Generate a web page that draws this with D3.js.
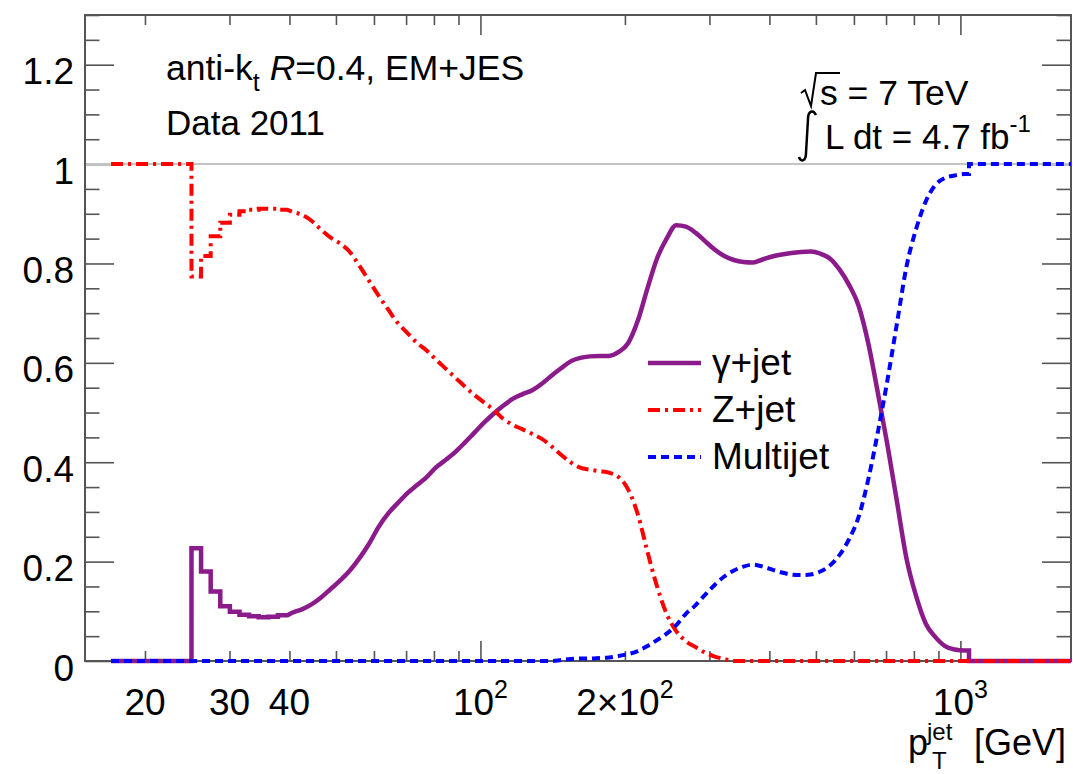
<!DOCTYPE html>
<html>
<head>
<meta charset="utf-8">
<script src="https://cdn.jsdelivr.net/npm/d3@7"></script>
<style>
  body { margin: 0; background: #fff; }
  text { font-family: "Liberation Sans", Arial, Helvetica, sans-serif; }
</style>
</head>
<body>
<script>
// pT bin edges [GeV]: one wide bin 17-25, then fine log bins from 25 GeV
var binEdges = [17].concat(d3.range(0, 93).map(k => 25 * Math.pow(10, 0.02 * k)));

// relative contribution of each in-situ method, one value per bin
var gammaJet = [0,
  0.227,0.18,0.14,0.11,0.099,0.093,0.09,0.088,0.089,0.092,
  0.097,0.104,0.114,0.128,0.145,0.162,0.182,0.207,0.236,0.27,
  0.297,0.318,0.338,0.354,0.37,0.39,0.405,0.421,0.44,0.46,
  0.48,0.498,0.514,0.528,0.537,0.545,0.558,0.574,0.589,0.603,
  0.61,0.613,0.614,0.614,0.622,0.64,0.685,0.75,0.81,0.85,
  0.877,0.874,0.862,0.845,0.828,0.815,0.807,0.803,0.802,0.808,
  0.814,0.818,0.821,0.823,0.824,0.82,0.81,0.788,0.757,0.715,
  0.64,0.54,0.435,0.32,0.205,0.13,0.075,0.048,0.03,0.023,
  0.021,
  0,0,0,0,0,0,0,0,0,0,0];
var zJet = [1,
  0.774,0.815,0.855,0.882,0.898,0.905,0.908,0.91,0.91,0.908,
  0.904,0.898,0.886,0.868,0.852,0.84,0.823,0.795,0.765,0.735,
  0.707,0.68,0.66,0.64,0.625,0.606,0.588,0.57,0.552,0.535,
  0.52,0.505,0.487,0.475,0.466,0.457,0.447,0.432,0.415,0.4,
  0.389,0.385,0.382,0.379,0.37,0.345,0.295,0.22,0.15,0.095,
  0.06,0.04,0.028,0.017,0.009,0.004,0,0,0,0,
  0,0,0,0,0,0,0,0,0,0,
  0,0,0,0,0,0,0,0,0,0,
  0,
  0,0,0,0,0,0,0,0,0,0,0];
var multijet = [0,
  0,0,0,0,0,0,0,0,0,0,
  0,0,0,0,0,0,0,0,0,0,
  0,0,0,0,0,0,0,0,0,0,
  0,0,0,0,0,0,0,0,0.002,0.004,
  0.005,0.005,0.006,0.007,0.01,0.014,0.02,0.03,0.042,0.055,
  0.072,0.095,0.112,0.133,0.153,0.17,0.182,0.19,0.194,0.19,
  0.184,0.178,0.174,0.173,0.174,0.18,0.192,0.213,0.245,0.29,
  0.365,0.46,0.565,0.68,0.795,0.87,0.925,0.958,0.972,0.977,
  0.98,
  1,1,1,1,1,1,1,1,1,1,1];

var seriesNames = ['\u03b3+jet', 'Z+jet', 'Multijet'];

// axis ticks and labels
var xMajorTicks = [100, 1000];
var xMinorTicks = [20,30,40,50,60,70,80,90,200,300,400,500,600,700,800,900];
var xLabelValues = [20, 30, 40, 100, 200, 1000];
var xLabelBase = ['20', '30', '40', '10', '2\u00d710', '10'];
var xLabelExp = ['', '', '', '2', '2', '3'];

var W = 1073, H = 774;
var L = 85, R = 1071, T = 15, B = 661;

var svg = d3.select('body').append('svg').attr('width', W).attr('height', H);

var x = d3.scaleLog().domain([15, 1700]).range([L, R]);
var y = d3.scaleLinear().domain([0, 1.3]).range([B, T]);

// axes (ticks only, inward) -- drawn first so the curves sit on top
var tickColor = '#555';
function styleAxis(g) {
  g.select('.domain').remove();
  g.selectAll('line').attr('stroke', tickColor).attr('stroke-width', 1.6);
}
svg.append('g').attr('transform', 'translate(0,' + B + ')')
  .call(d3.axisBottom(x).tickValues(xMinorTicks).tickSize(-10).tickFormat('')).call(styleAxis);
svg.append('g').attr('transform', 'translate(0,' + B + ')')
  .call(d3.axisBottom(x).tickValues(xMajorTicks).tickSize(-20).tickFormat('')).call(styleAxis);
svg.append('g').attr('transform', 'translate(0,' + T + ')')
  .call(d3.axisTop(x).tickValues(xMinorTicks).tickSize(-10).tickFormat('')).call(styleAxis);
svg.append('g').attr('transform', 'translate(0,' + T + ')')
  .call(d3.axisTop(x).tickValues(xMajorTicks).tickSize(-20).tickFormat('')).call(styleAxis);

var yMajor = y.ticks(6);
var yMinor = y.ticks(26).filter(v => yMajor.indexOf(v) < 0);
svg.append('g').attr('transform', 'translate(' + L + ',0)')
  .call(d3.axisLeft(y).tickValues(yMinor).tickSize(-14.5).tickFormat('')).call(styleAxis);
svg.append('g').attr('transform', 'translate(' + R + ',0)')
  .call(d3.axisRight(y).tickValues(yMinor).tickSize(-14.5).tickFormat('')).call(styleAxis);
svg.append('g').attr('transform', 'translate(' + R + ',0)')
  .call(d3.axisRight(y).tickValues(yMajor).tickSize(-29).tickFormat('')).call(styleAxis);
var yAxis = svg.append('g').attr('transform', 'translate(' + L + ',0)')
  .call(d3.axisLeft(y).tickValues(yMajor).tickSize(-29).tickPadding(11).tickFormat(d3.format('~g')))
  .call(styleAxis);
yAxis.attr('font-size', null).attr('font-family', null);
yAxis.selectAll('text')
  .attr('dy', 19)
  .attr('fill', '#000')
  .style('font-size', '37px');

// frame
svg.append('rect')
  .attr('x', L).attr('y', T).attr('width', R - L).attr('height', B - T)
  .attr('fill', 'none').attr('stroke', tickColor).attr('stroke-width', 2);

// reference line at 1
svg.append('line')
  .attr('x1', L + 1).attr('x2', R - 1)
  .attr('y1', y(1)).attr('y2', y(1))
  .attr('stroke', '#c4c4c4').attr('stroke-width', 2);

svg.append('clipPath').attr('id', 'clip')
  .append('rect').attr('x', L).attr('y', 0).attr('width', R - L).attr('height', H);

// low-pT and top-end bins show as steps, the middle is drawn smooth
var nStepLo = 11, nStepHi = 82;
var stepLine = d3.line().x(d => x(d[0])).y(d => y(d[1])).curve(d3.curveStepAfter);
var smoothLine = d3.line().x(d => x(d[0])).y(d => y(d[1])).curve(d3.curveMonotoneX);

function seriesPath(vals) {
  var n = vals.length;
  var lo = vals.slice(0, nStepLo).map((v, i) => [binEdges[i], v]);
  lo.push([binEdges[nStepLo], vals[nStepLo - 1]]);
  var mid = [[binEdges[nStepLo], vals[nStepLo - 1]]];
  for (var i = nStepLo; i < nStepHi; i++) {
    mid.push([Math.sqrt(binEdges[i] * binEdges[i + 1]), vals[i]]);
  }
  mid.push([binEdges[nStepHi], vals[nStepHi - 1]]);
  var hi = vals.slice(nStepHi).map((v, i) => [binEdges[nStepHi + i], v]);
  hi.push([binEdges[n], vals[n - 1]]);
  return stepLine(lo) + smoothLine(mid).replace(/^M/, 'L') + stepLine(hi).replace(/^M/, 'L');
}

var styles = [
  {data: gammaJet, color: '#8b1a8b', width: 4.5, dash: null},
  {data: zJet, color: '#ff0000', width: 4, dash: '12,5,3,5'},
  {data: multijet, color: '#0000ff', width: 4, dash: '8,5'}
];

var plot = svg.append('g').attr('clip-path', 'url(#clip)');
styles.forEach(function(s) {
  plot.append('path')
    .attr('d', seriesPath(s.data))
    .attr('fill', 'none')
    .attr('stroke', s.color)
    .attr('stroke-width', s.width)
    .attr('stroke-dasharray', s.dash);
});

// x tick labels
xLabelValues.forEach(function(v, i) {
  var t = svg.append('text')
    .attr('x', x(v)).attr('y', 715)
    .attr('text-anchor', 'middle')
    .style('font-size', '37px');
  t.append('tspan').text(xLabelBase[i]);
  if (xLabelExp[i]) {
    t.append('tspan').attr('dy', -17).style('font-size', '25px').text(xLabelExp[i]);
  }
});

// x axis title
svg.append('text').attr('x', 908).attr('y', 755).style('font-size', '36px').text('p');
svg.append('text').attr('x', 927).attr('y', 740).style('font-size', '24px').text('jet');
svg.append('text').attr('x', 932).attr('y', 769).style('font-size', '24px').text('T');
svg.append('text').attr('x', 1066).attr('y', 755).attr('text-anchor', 'end')
  .style('font-size', '36px').text('[GeV]');

// labels top-left
var t1 = svg.append('text').attr('x', 166).attr('y', 80).style('font-size', '35.5px');
t1.append('tspan').text('anti-k');
t1.append('tspan').attr('dy', 11).style('font-size', '25px').text('t');
t1.append('tspan').attr('dy', -11).text(' ');
t1.append('tspan').style('font-style', 'italic').text('R');
t1.append('tspan').text('=0.4, EM+JES');
svg.append('text').attr('x', 166).attr('y', 135).style('font-size', '35px').text('Data 2011');

// labels top-right
svg.append('path')
  .attr('d', 'M801,93 L805,90 L811,106 L816,73 L840,73')
  .attr('fill', 'none').attr('stroke', '#000').attr('stroke-width', 2);
svg.append('text').attr('x', 820).attr('y', 105).style('font-size', '35.5px').text('s = 7 TeV');
svg.append('path')
  .attr('d', 'M816,115 C813,109 808,111 808,119 L806,153 C806,161 801,163 799,157')
  .attr('fill', 'none').attr('stroke', '#000').attr('stroke-width', 2.5);
var t2 = svg.append('text').attr('x', 825).attr('y', 149).style('font-size', '35px');
t2.append('tspan').text('L dt = 4.7 fb');
t2.append('tspan').attr('dy', -17).style('font-size', '24px').text('-1');

// legend
var legend = svg.append('g');
styles.forEach(function(s, i) {
  var ly = 363 + i * 47;
  legend.append('line')
    .attr('x1', 648).attr('x2', 701).attr('y1', ly).attr('y2', ly)
    .attr('stroke', s.color).attr('stroke-width', s.width)
    .attr('stroke-dasharray', s.dash);
  legend.append('text')
    .attr('x', 712).attr('y', ly + 12)
    .style('font-size', '37px')
    .text(seriesNames[i]);
});
</script>
</body>
</html>
